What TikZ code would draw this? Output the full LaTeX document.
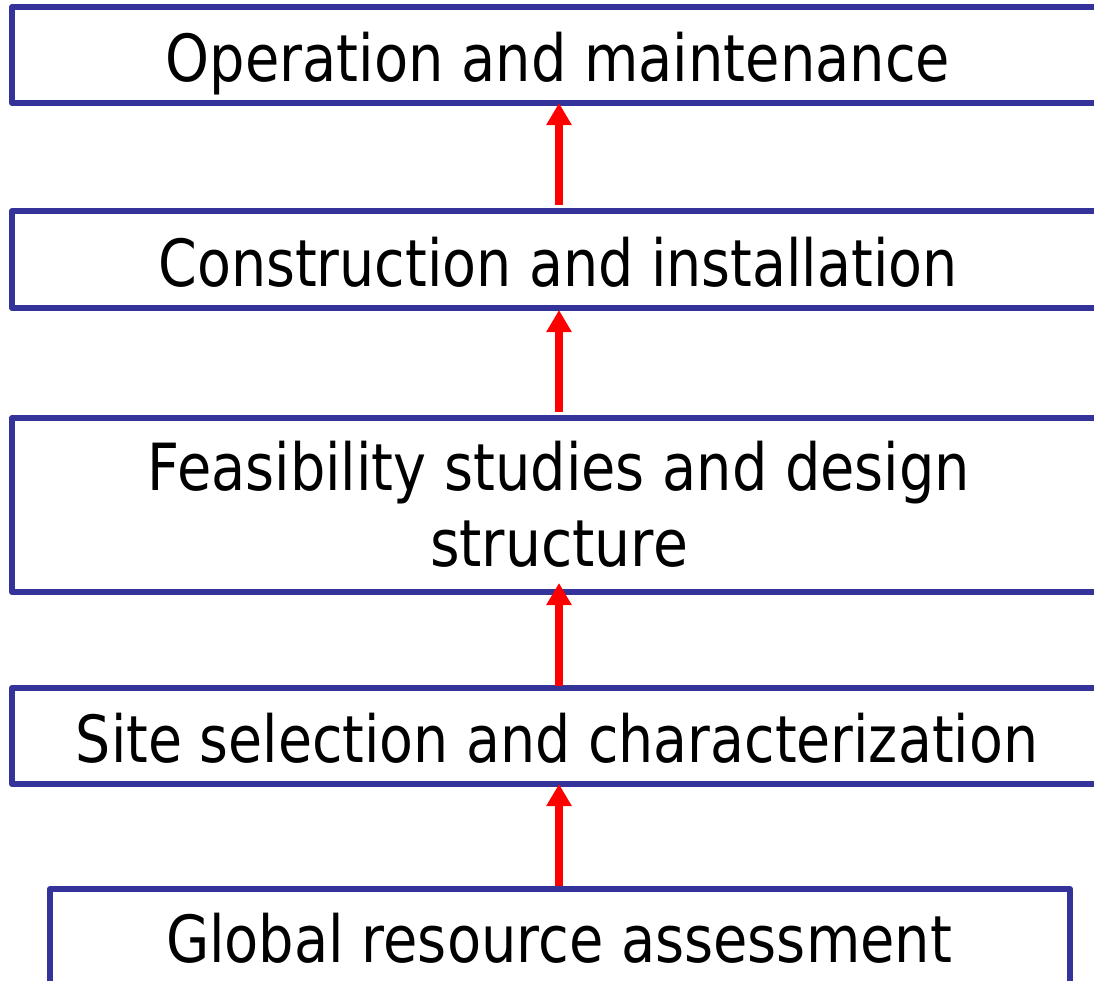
\documentclass[tikz,border=0pt]{standalone}
\usepackage{fontspec}
\setmainfont{DejaVu Sans}
\usepackage{graphicx}
\usetikzlibrary{arrows.meta}
\definecolor{boxblue}{RGB}{51,51,153}
\definecolor{arrred}{RGB}{255,0,0}
\tikzset{
  stage/.style={draw=boxblue, line width=6pt, line join=round, rectangle, inner sep=0pt, outer sep=0pt},
  txt/.style={anchor=base, inner sep=0pt, font=\fontsize{65}{75}\selectfont},
  arr/.style={draw=arrred, line width=8pt, -{Triangle[width=24pt,length=22pt]}}
}
\begin{document}
\begin{tikzpicture}[x=1pt,y=-1pt]
\useasboundingbox (0,0) rectangle (1094,980);
\clip (0,0) rectangle (1094,980);
\node[stage, minimum width=1092pt, minimum height=96pt] (b1) at (558,55) {};
\node[stage, minimum width=1092pt, minimum height=97pt] (b2) at (558,259.5) {};
\node[stage, minimum width=1092pt, minimum height=174pt] (b3) at (558,505) {};
\node[stage, minimum width=1092pt, minimum height=96pt] (b4) at (558,736) {};
\node[stage, minimum width=1020pt, minimum height=120pt] (b5) at (560,949) {};
\node[txt] (t1) at (558,81) {\resizebox{784pt}{\height}{Operation and maintenance}};
\node[txt] (t2) at (558,286) {\resizebox{799pt}{\height}{Construction and installation}};
\node[txt] (t3a) at (559,490) {\resizebox{822pt}{\height}{Feasibility studies and design}};
\node[txt] (t3b) at (559,566) {\resizebox{258pt}{\height}{structure}};
\node[txt] (t4) at (557,762) {\resizebox{962pt}{\height}{Site selection and characterization}};
\node[txt] (t5) at (559,962) {\resizebox{786pt}{\height}{Global resource assessment}};
\draw[arr] ([xshift=1pt,yshift=6pt]b2.north) -- ([xshift=1pt]b1.south);
\draw[arr] ([xshift=1pt,yshift=6pt]b3.north) -- ([xshift=1pt,yshift=-2pt]b2.south);
\draw[arr] ([xshift=1pt,yshift=2pt]b4.north) -- ([xshift=1pt,yshift=9pt]b3.south);
\draw[arr] ([xshift=-1pt,yshift=3pt]b5.north) -- ([xshift=1pt]b4.south);
\end{tikzpicture}
\end{document}
